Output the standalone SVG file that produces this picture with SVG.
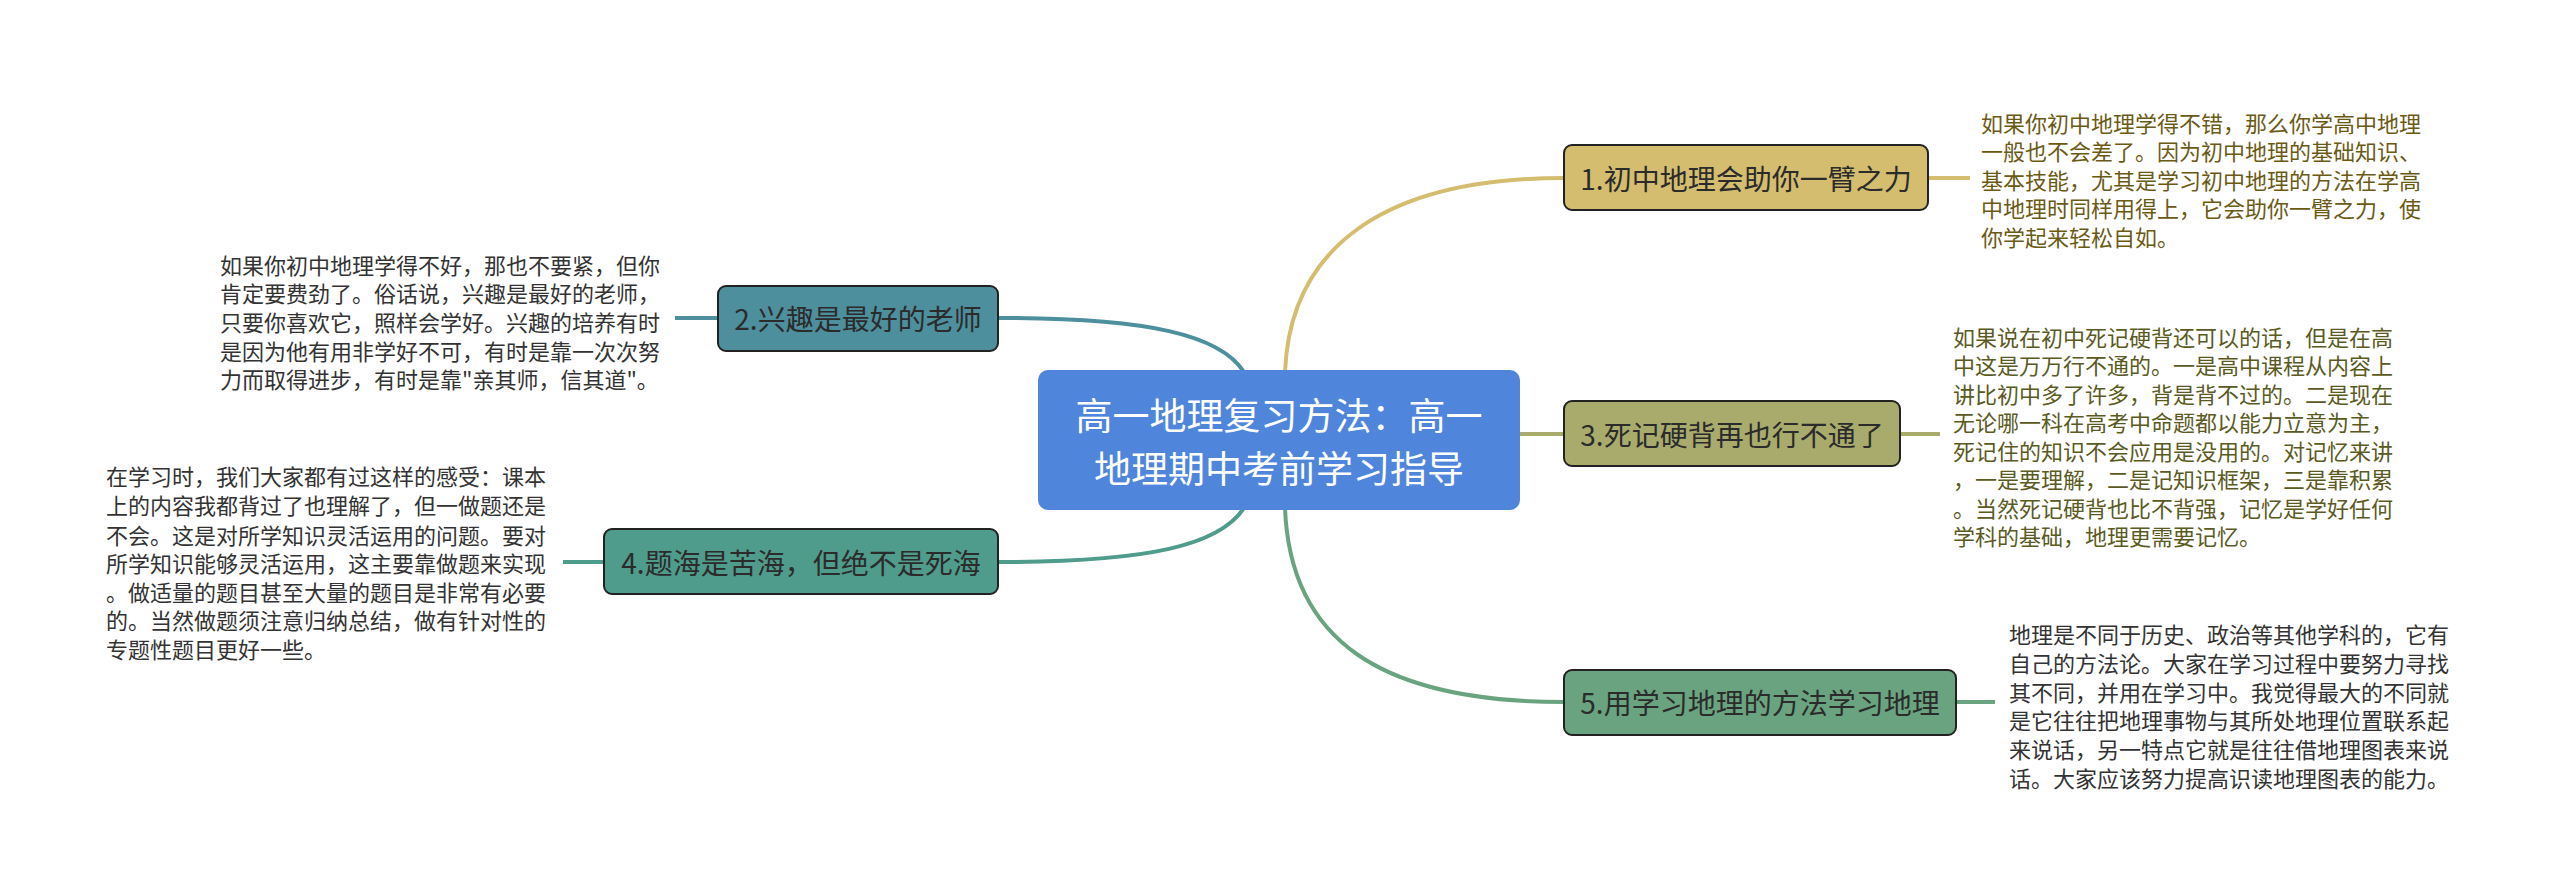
<svg xmlns="http://www.w3.org/2000/svg" width="2560" height="895" viewBox="0 0 2560 895">
<style>
text{font-family:"Noto Sans CJK SC","Liberation Sans",sans-serif}
.n{font-size:28px;fill:#2b2b2b;dominant-baseline:central;text-anchor:middle}
.d{font-size:22px;dominant-baseline:central}
.box{stroke:#222;stroke-width:2}
.c{fill:none;stroke-width:4}
</style>
<rect width="2560" height="895" fill="#fff"/>
<g id="connectors">
<path class="c" stroke="#d4bd6e" d="M1285,372 C1290,250 1380,178 1564,178"/>
<path class="c" stroke="#4e8f9d" d="M1244,372 C1220,335 1150,318 998,318"/>
<path class="c" stroke="#a9ab6c" d="M1520,434 L1564,434"/>
<path class="c" stroke="#4f9b8c" d="M1244,508 C1220,545 1150,562 998,562"/>
<path class="c" stroke="#6aa37f" d="M1285,508 C1290,640 1380,702 1564,702"/>
<path class="c" stroke="#d4bd6e" d="M1928,178 L1970,178"/>
<path class="c" stroke="#4e8f9d" d="M718,318 L675,318"/>
<path class="c" stroke="#a9ab6c" d="M1900,434 L1940,434"/>
<path class="c" stroke="#4f9b8c" d="M604,562 L563,562"/>
<path class="c" stroke="#6aa37f" d="M1956,702 L1995,702"/>
</g>
<g id="center">
<rect x="1038" y="370" width="482" height="140" rx="10" fill="#4f86dc"/>
<text x="1279" y="414" font-size="37" fill="#fff" text-anchor="middle" dominant-baseline="central">高一地理复习方法：高一</text>
<text x="1279" y="467" font-size="37" fill="#fff" text-anchor="middle" dominant-baseline="central">地理期中考前学习指导</text>
</g>
<g id="node1">
<rect class="box" x="1564" y="145" width="364" height="65" rx="8" fill="#d4bd6e"/>
<text class="n" x="1746" y="178">1.初中地理会助你一臂之力</text>
<text class="d" fill="#6b5a14" x="1981"><tspan x="1981" y="122">如果你初中地理学得不错，那么你学高中地理</tspan><tspan x="1981" y="150">一般也不会差了。因为初中地理的基础知识、</tspan><tspan x="1981" y="179">基本技能，尤其是学习初中地理的方法在学高</tspan><tspan x="1981" y="207">中地理时同样用得上，它会助你一臂之力，使</tspan><tspan x="1981" y="236">你学起来轻松自如。</tspan></text>
</g>
<g id="node2">
<rect class="box" x="718" y="286" width="280" height="65" rx="8" fill="#4e8f9d"/>
<text class="n" x="858" y="318">2.兴趣是最好的老师</text>
<text class="d" fill="#333"><tspan x="220" y="264">如果你初中地理学得不好，那也不要紧，但你</tspan><tspan x="220" y="292">肯定要费劲了。俗话说，兴趣是最好的老师，</tspan><tspan x="220" y="321">只要你喜欢它，照样会学好。兴趣的培养有时</tspan><tspan x="220" y="350">是因为他有用非学好不可，有时是靠一次次努</tspan><tspan x="220" y="378">力而取得进步，有时是靠"亲其师，信其道"。</tspan></text>
</g>
<g id="node3">
<rect class="box" x="1564" y="401" width="336" height="65" rx="8" fill="#a9ab6c"/>
<text class="n" x="1732" y="434">3.死记硬背再也行不通了</text>
<text class="d" fill="#5a5a22"><tspan x="1953" y="336">如果说在初中死记硬背还可以的话，但是在高</tspan><tspan x="1953" y="364">中这是万万行不通的。一是高中课程从内容上</tspan><tspan x="1953" y="393">讲比初中多了许多，背是背不过的。二是现在</tspan><tspan x="1953" y="421">无论哪一科在高考中命题都以能力立意为主，</tspan><tspan x="1953" y="450">死记住的知识不会应用是没用的。对记忆来讲</tspan><tspan x="1953" y="478">，一是要理解，二是记知识框架，三是靠积累</tspan><tspan x="1953" y="507">。当然死记硬背也比不背强，记忆是学好任何</tspan><tspan x="1953" y="535">学科的基础，地理更需要记忆。</tspan></text>
</g>
<g id="node4">
<rect class="box" x="604" y="529" width="394" height="65" rx="8" fill="#4f9b8c"/>
<text class="n" x="801" y="562">4.题海是苦海，但绝不是死海</text>
<text class="d" fill="#333"><tspan x="106" y="475">在学习时，我们大家都有过这样的感受：课本</tspan><tspan x="106" y="504">上的内容我都背过了也理解了，但一做题还是</tspan><tspan x="106" y="534">不会。这是对所学知识灵活运用的问题。要对</tspan><tspan x="106" y="562">所学知识能够灵活运用，这主要靠做题来实现</tspan><tspan x="106" y="591">。做适量的题目甚至大量的题目是非常有必要</tspan><tspan x="106" y="619">的。当然做题须注意归纳总结，做有针对性的</tspan><tspan x="106" y="648">专题性题目更好一些。</tspan></text>
</g>
<g id="node5">
<rect class="box" x="1564" y="670" width="392" height="65" rx="8" fill="#6aa37f"/>
<text class="n" x="1760" y="702">5.用学习地理的方法学习地理</text>
<text class="d" fill="#333"><tspan x="2009" y="633">地理是不同于历史、政治等其他学科的，它有</tspan><tspan x="2009" y="662">自己的方法论。大家在学习过程中要努力寻找</tspan><tspan x="2009" y="691">其不同，并用在学习中。我觉得最大的不同就</tspan><tspan x="2009" y="719">是它往往把地理事物与其所处地理位置联系起</tspan><tspan x="2009" y="748">来说话，另一特点它就是往往借地理图表来说</tspan><tspan x="2009" y="777">话。大家应该努力提高识读地理图表的能力。</tspan></text>
</g>
</svg>
